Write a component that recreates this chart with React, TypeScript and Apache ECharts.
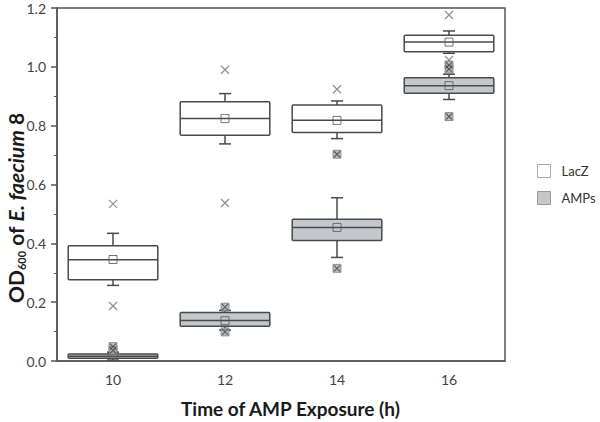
import React, { useEffect, useRef } from "react";
import * as echarts from "echarts";

const categories = ["10", "12", "14", "16"];

// [categoryIndex, lowerWhisker, Q1, median, Q3, upperWhisker]
const lacZBoxes = [
  [0, 0.257, 0.276, 0.344, 0.392, 0.434],
  [1, 0.738, 0.767, 0.824, 0.881, 0.909],
  [2, 0.756, 0.777, 0.818, 0.87, 0.884],
  [3, 1.046, 1.051, 1.084, 1.107, 1.122],
];
const lacZMeans = [
  [0, 0.345],
  [1, 0.824],
  [2, 0.818],
  [3, 1.084],
];
const lacZOutliers = [
  [0, 0.534],
  [0, 0.187],
  [1, 0.99],
  [1, 0.537],
  [2, 0.924],
  [3, 1.176],
  [3, 1.023],
];

const ampsBoxes = [
  [0, 0.003, 0.009, 0.016, 0.024, 0.03],
  [1, 0.105, 0.118, 0.138, 0.165, 0.172],
  [2, 0.352, 0.41, 0.454, 0.482, 0.555],
  [3, 0.889, 0.91, 0.936, 0.963, 0.975],
];
const ampsMeans = [
  [0, 0.016],
  [1, 0.137],
  [2, 0.454],
  [3, 0.936],
];
const ampsOutliers = [
  [0, 0.049],
  [0, 0.036],
  [1, 0.183],
  [1, 0.099],
  [2, 0.703],
  [2, 0.315],
  [3, 1.006],
  [3, 0.992],
  [3, 0.831],
];

const yTicks = [0, 0.2, 0.4, 0.6, 0.8, 1.0, 1.2];

const FONT = "Lato";
const STROKE = "#4a4a4a";
const GRAY_FILL = "#c4c8cc";

function boxRenderer(fill: string) {
  return (params: any, api: any) => {
    const x = api.value(0);
    const lo = api.coord([x, api.value(1)]);
    const q1 = api.coord([x, api.value(2)]);
    const md = api.coord([x, api.value(3)]);
    const q3 = api.coord([x, api.value(4)]);
    const hi = api.coord([x, api.value(5)]);
    const bw = api.size([1, 0])[0] * 0.8;
    const cap = 12;
    const cx = md[0];
    const ls = { stroke: STROKE, lineWidth: 1.5 };
    return {
      type: "group",
      children: [
        { type: "line", shape: { x1: cx, y1: q3[1], x2: cx, y2: hi[1] }, style: ls },
        { type: "line", shape: { x1: cx, y1: q1[1], x2: cx, y2: lo[1] }, style: ls },
        { type: "line", shape: { x1: cx - cap / 2, y1: hi[1], x2: cx + cap / 2, y2: hi[1] }, style: ls },
        { type: "line", shape: { x1: cx - cap / 2, y1: lo[1], x2: cx + cap / 2, y2: lo[1] }, style: ls },
        {
          type: "rect",
          shape: { x: cx - bw / 2, y: q3[1], width: bw, height: q1[1] - q3[1], r: 1 },
          style: { fill, stroke: STROKE, lineWidth: 1.5 },
        },
        { type: "line", shape: { x1: cx - bw / 2, y1: md[1], x2: cx + bw / 2, y2: md[1] }, style: ls },
      ],
    };
  };
}

export default function App() {
  const ref = useRef<HTMLDivElement>(null);

  useEffect(() => {
    if (!ref.current) return;
    const chart = echarts.init(ref.current, null, { renderer: "svg" });
    const crossPath = "path://M0,0L10,10M10,0L0,10";
    chart.setOption({
      animation: false,
      backgroundColor: "#ffffff",
      textStyle: { fontFamily: FONT },
      grid: {
        left: 57,
        right: 95,
        top: 8,
        bottom: 61,
        show: true,
        borderColor: "#555",
        borderWidth: 1.5,
      },
      legend: {
        orient: "vertical",
        left: 532,
        top: 159,
        itemWidth: 13,
        itemHeight: 13,
        itemGap: 13,
        selectedMode: false,
        textStyle: { fontFamily: FONT, fontSize: 13, color: "#333", padding: [0, 0, 0, 6] },
        data: [
          { name: "LacZ", icon: "rect", itemStyle: { color: "#fff", borderColor: "#aaa", borderWidth: 1 } },
          { name: "AMPs", icon: "rect", itemStyle: { color: GRAY_FILL, borderColor: "#999", borderWidth: 1 } },
        ],
      },
      xAxis: {
        type: "category",
        data: categories,
        boundaryGap: true,
        axisLine: { lineStyle: { color: "#555", width: 1.5 } },
        axisTick: { alignWithLabel: true, inside: false, length: 5, lineStyle: { color: "#555", width: 1.5 } },
        axisLabel: { fontFamily: FONT, fontSize: 14, color: "#444", margin: 11 },
        splitLine: { show: false },
      },
      yAxis: {
        type: "value",
        min: 0,
        max: 1.2,
        interval: 0.2,
        axisLine: { show: true, lineStyle: { color: "#555", width: 1.5 } },
        axisTick: { show: true, length: 6, lineStyle: { color: "#555", width: 1.5 } },
        minorTick: { show: true, splitNumber: 2, length: 3, lineStyle: { color: "#555", width: 1 } },
        axisLabel: {
          fontFamily: FONT,
          fontSize: 14,
          color: "#444",
          margin: 11,
          formatter: (v: number) => {
            const t = yTicks.find((k) => Math.abs(k - v) < 1e-6);
            return (t !== undefined ? t : v).toFixed(1);
          },
        },
        splitLine: { show: false },
      },
      graphic: [
        {
          type: "text",
          left: 181,
          top: 399,
          style: {
            text: "Time of AMP Exposure (h)",
            font: `bold 19px ${FONT}`,
            fill: "#1a1a1a",
          },
        },
        {
          type: "text",
          x: 3,
          y: 303,
          rotation: Math.PI / 2,
          style: {
            text: "{b|OD}{s|600}{b| of }{i|E. faecium}{b| 8}",
            fill: "#1a1a1a",
            rich: {
              b: { fontFamily: FONT, fontWeight: "bold", fontSize: 21, fill: "#1a1a1a", lineHeight: 24 },
              i: { fontFamily: FONT, fontWeight: "bold", fontStyle: "italic", fontSize: 21, fill: "#1a1a1a", lineHeight: 24 },
              s: { fontFamily: FONT, fontWeight: "bold", fontSize: 11, fill: "#1a1a1a", padding: [12, 0, 0, 0], lineHeight: 24 },
            },
          },
        },
      ],
      series: [
        {
          name: "LacZ",
          type: "custom",
          renderItem: boxRenderer("#ffffff"),
          encode: { x: 0, y: [1, 2, 3, 4, 5] },
          data: lacZBoxes,
          z: 2,
        },
        {
          name: "AMPs",
          type: "custom",
          renderItem: boxRenderer(GRAY_FILL),
          encode: { x: 0, y: [1, 2, 3, 4, 5] },
          data: ampsBoxes,
          z: 2,
        },
        {
          name: "LacZ",
          type: "scatter",
          data: lacZMeans,
          symbol: "rect",
          symbolSize: 8,
          itemStyle: { color: "rgba(0,0,0,0)", borderColor: "#555", borderWidth: 1 },
          z: 3,
        },
        {
          name: "AMPs",
          type: "scatter",
          data: ampsMeans,
          symbol: "rect",
          symbolSize: 8,
          itemStyle: { color: "rgba(0,0,0,0)", borderColor: "#555", borderWidth: 1 },
          z: 3,
        },
        {
          name: "LacZ",
          type: "scatter",
          data: lacZOutliers,
          symbol: crossPath,
          symbolSize: 8,
          itemStyle: { color: "rgba(0,0,0,0)", borderColor: "#777", borderWidth: 1.3 },
          z: 3,
        },
        {
          name: "AMPs",
          type: "scatter",
          data: ampsOutliers,
          symbol: "rect",
          symbolSize: 8,
          itemStyle: { color: "#aab0b5", borderColor: "#666", borderWidth: 0.8 },
          z: 3,
        },
        {
          name: "AMPs",
          type: "scatter",
          data: ampsOutliers,
          symbol: crossPath,
          symbolSize: 6,
          itemStyle: { color: "rgba(0,0,0,0)", borderColor: "#444", borderWidth: 1.2 },
          z: 4,
        },
      ],
    });
    return () => chart.dispose();
  }, []);

  return <div ref={ref} style={{ width: 600, height: 422, position: "absolute", left: 0, top: 0 }} />;
}
